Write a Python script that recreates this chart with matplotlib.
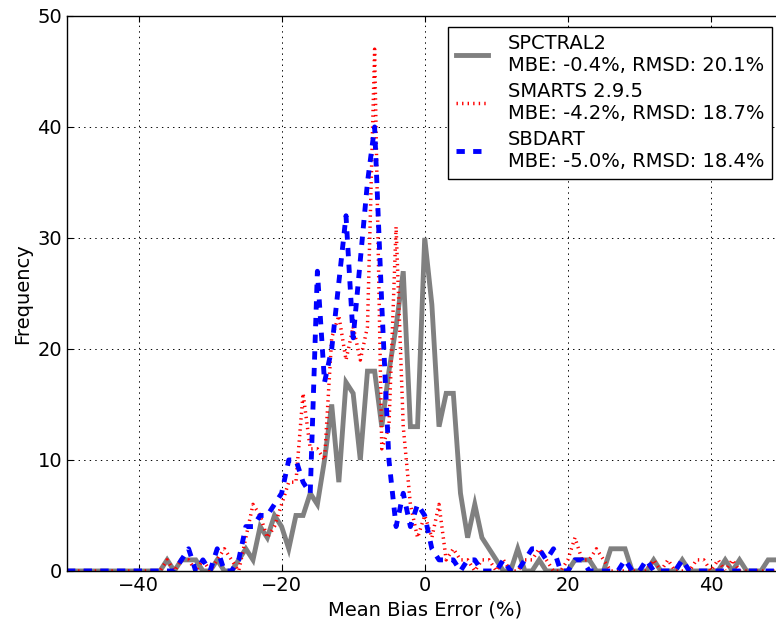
import numpy as np
import matplotlib
matplotlib.use('Agg')
import matplotlib.pyplot as plt

# Histogram bin centres (%), one bin per percent
bin_centres = np.arange(-50, 51)

# Frequencies per bin for each model
spctral2 = [0, 0, 0, 0, 0, 0, 0, 0, 0, 0, 0, 0, 0,
            0, 1, 0, 1, 1, 1, 0, 0, 1, 0, 0, 1, 2, 1, 4, 3, 5, 4, 2, 5, 5, 7,
            6, 10, 15, 8, 17, 16, 10, 18, 18, 13, 18, 22, 27, 13, 13,
            30, 24, 13, 16, 16, 7, 3, 6, 3, 2, 1, 0, 0, 2, 0, 0, 1, 0, 0, 0,
            0, 1, 1, 1, 0, 0, 2, 2, 2, 0, 0, 0, 1, 0, 0, 0, 1, 0, 0, 0, 0,
            0, 1, 0, 1, 0, 0, 0, 1, 1, 1]
smarts = [0, 0, 0, 0, 0, 0, 0, 0, 0, 0, 0, 0, 0,
          0, 1, 0, 1, 1, 0, 1, 0, 1, 2, 1, 0, 3, 6, 5, 3, 4, 6, 8, 8, 16,
          11, 11, 10, 21, 23, 19, 22, 19, 22, 47, 11, 13, 31, 13, 6, 3,
          5, 3, 6, 1, 2, 1, 1, 0, 1, 1, 0, 1, 0, 0, 1, 1, 2, 1, 0, 0,
          1, 3, 1, 1, 2, 1, 0, 0, 0, 0, 0, 0, 1, 0, 1, 0, 0, 0, 1, 1, 0,
          1, 0, 1, 0, 0, 0, 0, 0, 0, 0]
sbdart = [0, 0, 0, 0, 0, 0, 0, 0, 0, 0, 0, 0, 0,
          0, 0, 0, 1, 2, 0, 1, 0, 2, 0, 0, 1, 4, 4, 5, 5, 6, 7, 10, 10, 8,
          7, 27, 17, 20, 26, 32, 21, 28, 35, 40, 24, 10, 4, 7, 4, 6,
          5, 2, 1, 1, 1, 0, 1, 1, 0, 0, 0, 1, 0, 0, 1, 2, 2, 1, 2, 0,
          0, 1, 1, 0, 0, 0, 0, 0, 1, 0, 0, 1, 0, 0, 0, 0, 1, 0, 0, 0, 0,
          0, 0, 0, 0, 0, 0, 0, 0, 0, 0]

labels = ['SPCTRAL2\nMBE: -0.4%, RMSD: 20.1%',
          'SMARTS 2.9.5\nMBE: -4.2%, RMSD: 18.7%',
          'SBDART\nMBE: -5.0%, RMSD: 18.4%']

plt.rcParams['font.family'] = 'DejaVu Sans'
plt.rcParams['font.size'] = 14
plt.rcParams['lines.scale_dashes'] = False

fig = plt.figure(figsize=(7.76, 6.23), dpi=100)
# axes runs a little past the right edge of the figure
ax = fig.add_axes([0.0863, 0.0835, 0.922, 0.891])

ax.plot(bin_centres, spctral2, color='gray', lw=3.5, solid_joinstyle='miter',
        label=labels[0])
ax.plot(bin_centres, smarts, color='red', lw=2.5, linestyle=(0, (1, 3)),
        dash_capstyle='butt', label=labels[1])
ax.plot(bin_centres, sbdart, color='blue', lw=3.5, linestyle=(0, (6, 6)),
        dash_capstyle='butt', label=labels[2])

ax.set_xlim(-50, 50)
ax.set_ylim(0, 50)
ax.set_xticks([-40, -20, 0, 20, 40])
ax.set_yticks([0, 10, 20, 30, 40, 50])
ax.tick_params(direction='in', length=4, top=True, right=True, labelsize=14)
ax.grid(True, color='black', linestyle=(0, (1, 3)), lw=0.7)
for s in ax.spines.values():
    s.set_linewidth(1.0)

ax.set_xlabel('Mean Bias Error (%)', fontsize=14)
ax.set_ylabel('Frequency', fontsize=14)

leg = ax.legend(loc='upper right', bbox_to_anchor=(772 / 776, 1 - 26.5 / 623),
                bbox_transform=fig.transFigure, borderaxespad=0, fontsize=14,
                handlelength=1.65, handletextpad=1.0, labelspacing=0.36,
                borderpad=0.4, fancybox=False, framealpha=1)
leg.get_frame().set_edgecolor('black')
leg.get_frame().set_linewidth(1.0)

fig.savefig('out.png', dpi=100)
